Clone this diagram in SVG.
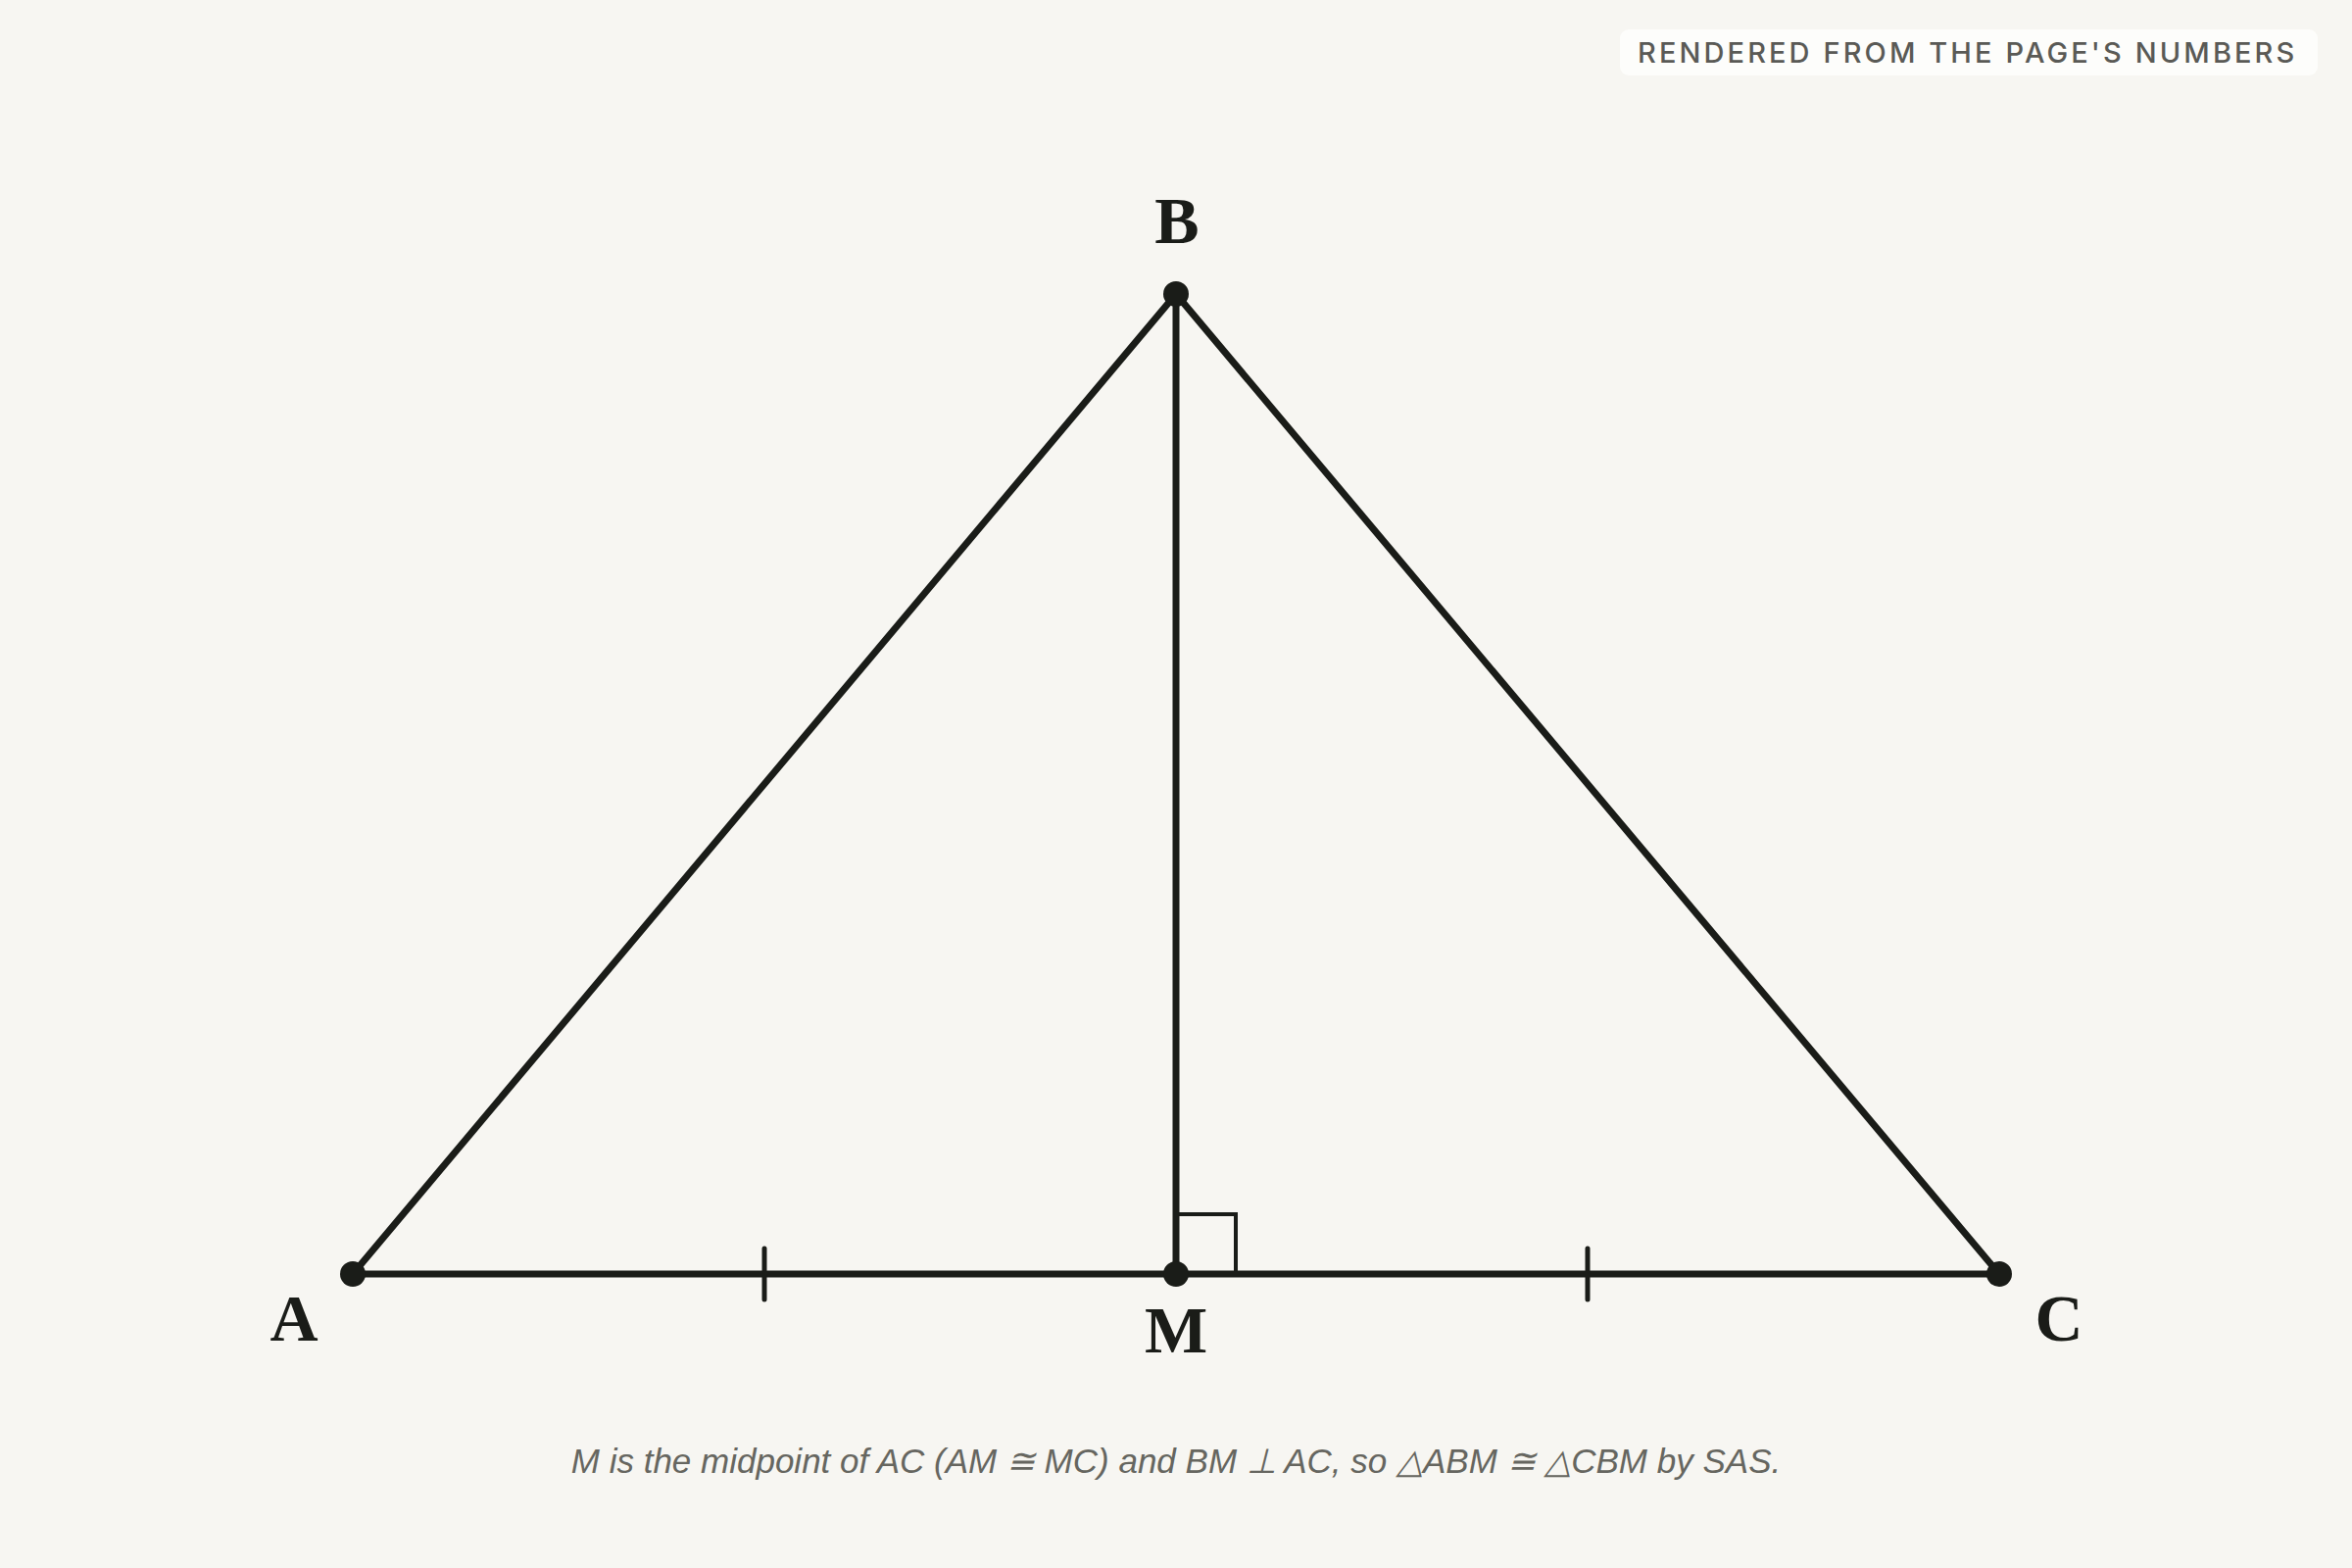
<svg xmlns="http://www.w3.org/2000/svg" width="2400" height="1600" viewBox="0 0 2400 1600">
<style>
.seg{stroke:#1a1c18;stroke-width:7;stroke-linecap:round;fill:none}
.tick{stroke:#1a1c18;stroke-width:5;stroke-linecap:round}
.ra{stroke:#1a1c18;stroke-width:4;fill:none}
.pt{fill:#1a1c18}
.lbl{font-family:"Liberation Serif","DejaVu Serif",serif;font-weight:bold;font-size:68px;fill:#1a1c18;text-anchor:middle}
.cap{font-family:"Liberation Sans",Arial,sans-serif;font-style:italic;font-size:35px;fill:#666660;text-anchor:middle}
.badge{font-family:Inter,"Liberation Sans",sans-serif;font-weight:500;font-size:29px;letter-spacing:3.1px;fill:#5a5a56}
</style>
<rect width="2400" height="1600" fill="#f7f6f2"/>
<g id="badge">
<rect x="1653" y="30" width="712" height="47" rx="9" fill="#fdfdfb"/>
<text class="badge" x="1671" y="64">RENDERED FROM THE PAGE'S NUMBERS</text>
</g>
<g id="connectors">
<line class="seg" x1="360" y1="1300" x2="1200" y2="300"/>
<line class="seg" x1="1200" y1="300" x2="2040" y2="1300"/>
<line class="seg" x1="360" y1="1300" x2="2040" y2="1300"/>
<line class="seg" x1="1200" y1="300" x2="1200" y2="1300"/>
<line class="tick" x1="780" y1="1274" x2="780" y2="1326"/>
<line class="tick" x1="1620" y1="1274" x2="1620" y2="1326"/>
<polyline class="ra" points="1200,1239 1261,1239 1261,1300"/>
</g>
<g id="node-A"><circle class="pt" cx="360" cy="1300" r="13"/><text class="lbl" x="300" y="1368">A</text></g>
<g id="node-B"><circle class="pt" cx="1200" cy="300" r="13"/><text class="lbl" x="1201" y="248">B</text></g>
<g id="node-M"><circle class="pt" cx="1200" cy="1300" r="13"/><text class="lbl" x="1200" y="1380">M</text></g>
<g id="node-C"><circle class="pt" cx="2040" cy="1300" r="13"/><text class="lbl" x="2101" y="1368">C</text></g>
<g id="caption"><text class="cap" x="1200" y="1503">M is the midpoint of AC (AM ≅ MC) and BM ⊥ AC, so △ABM ≅ △CBM by SAS.</text></g>
</svg>
